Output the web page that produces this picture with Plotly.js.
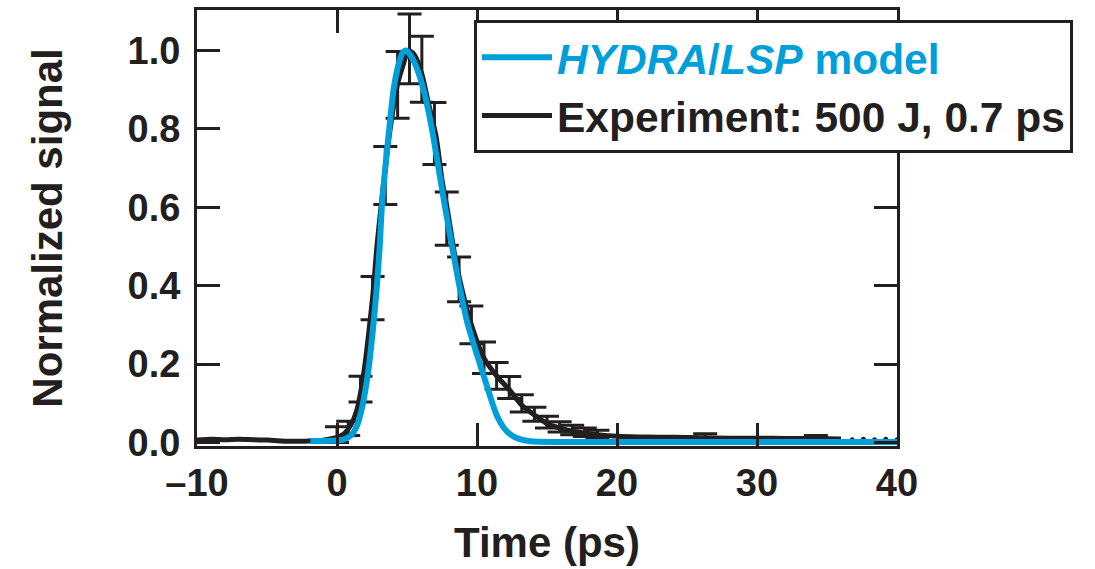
<!DOCTYPE html>
<html>
<head>
<meta charset="utf-8">
<script src="https://cdn.plot.ly/plotly-3.0.1.min.js"></script>
<style>
  html, body { margin: 0; padding: 0; background: #ffffff; }
  #chart { width: 1095px; height: 569px; }
</style>
</head>
<body>
<div id="chart"></div>
<script>
// ---------------- data ----------------
var modelName = '<span style="color:#009FDA"><i>HYDRA</i>/<i>LSP</i> model</span>';
var expName = 'Experiment: 500 J, 0.7 ps';

// HYDRA/LSP model curve
var modelTime = [-1.9, -1.0, 0.0, 0.5, 1.0, 1.4, 1.8, 2.1, 2.3, 2.6, 2.85, 3.05, 3.2, 3.45, 3.73,
                 4.04, 4.4, 4.7, 4.95, 5.3, 5.7, 6.18, 6.78, 7.25, 7.72, 8.22, 8.74, 9.35, 9.9,
                 10.3, 10.7, 11.1, 11.4, 11.9, 12.4, 13.0, 13.8, 16.0, 20.0, 30.0, 40.0];
var modelSignal = [0.004, 0.004, 0.005, 0.008, 0.018, 0.04, 0.09, 0.15, 0.2, 0.3, 0.4, 0.5, 0.6, 0.7, 0.8,
                   0.9, 0.965, 0.995, 1.0, 0.985, 0.955, 0.9, 0.8, 0.7, 0.6, 0.5, 0.4, 0.3, 0.235,
                   0.19, 0.145, 0.1, 0.07, 0.038, 0.02, 0.009, 0.003, 0.001, 0.001, 0.001, 0.001];

// Experimental curve
var expTime = [-10, -9, -8, -7, -6, -5, -4, -3, -2, -1, -0.5, 0, 0.5, 1.0, 1.4, 1.7, 2.0, 2.3, 2.57,
               2.85, 3.14, 3.45, 3.8, 4.3, 4.7, 5.1, 5.5, 6.06, 6.5, 7.08, 7.5, 7.9, 8.4, 8.8, 9.6,
               10.5, 11.4, 12.3, 13.2, 14.1, 15.0, 15.9, 16.8, 17.7, 18.6, 20, 22, 24, 26, 28, 30,
               32, 34, 36];
var expSignal = [0.006, 0.008, 0.007, 0.008, 0.007, 0.006, 0.004, 0.003, 0.004, 0.006, 0.009, 0.013,
                 0.022, 0.045, 0.08, 0.13, 0.2, 0.29, 0.38, 0.5, 0.6, 0.7, 0.8, 0.91, 0.96, 1.0, 0.99,
                 0.94, 0.87, 0.78, 0.67, 0.59, 0.48, 0.41, 0.30, 0.215, 0.17, 0.135, 0.095, 0.07,
                 0.048, 0.037, 0.029, 0.024, 0.02, 0.016, 0.014, 0.013, 0.012, 0.011, 0.011, 0.01,
                 0.01, 0.009];

// Sparse experimental points at the end of the record
var dotTime = [36.8, 37.6, 38.4, 39.2, 40.0];
var dotSignal = [0.007, 0.008, 0.007, 0.008, 0.007];

// Error bars on the experiment
var barTime = [0.0, 0.8, 1.68, 2.54, 3.45, 4.33, 5.18, 6.06, 6.96, 7.84, 8.72, 9.6, 10.5, 11.4,
               12.3, 13.2, 14.1, 15.0, 15.9, 16.8, 17.7, 18.6, 26.3, 34.2];
var barSignal = [0.02, 0.036, 0.136, 0.368, 0.681, 0.912, 1.004, 0.952, 0.788, 0.571, 0.416, 0.30,
                 0.216, 0.17, 0.14, 0.10, 0.072, 0.052, 0.04, 0.032, 0.026, 0.021, 0.012, 0.01];
var barError = [0.02, 0.018, 0.033, 0.055, 0.074, 0.085, 0.089, 0.084, 0.079, 0.068, 0.057, 0.048,
                0.04, 0.034, 0.028, 0.022, 0.018, 0.015, 0.013, 0.012, 0.011, 0.01, 0.01, 0.008];

// Axis ticks
var xTickVals = [-10, 0, 10, 20, 30, 40];
var xTickText = ['\u201310', '0', '10', '20', '30', '40'];
var yTickVals = [0, 0.2, 0.4, 0.6, 0.8, 1.0];
var yTickText = ['0.0', '0.2', '0.4', '0.6', '0.8', '1.0'];

// ---------------- styling ----------------
var BLUE = '#009FDA';
var BLACK = '#231F20';
var FONT = '"Liberation Sans", Arial, Helvetica, sans-serif';

var traces = [
  {
    x: barTime, y: barSignal, type: 'scatter', mode: 'markers',
    marker: {size: 1, color: 'rgba(0,0,0,0)'},
    error_y: {type: 'data', array: barError, visible: true, color: BLACK, thickness: 3, width: 12},
    showlegend: false, hoverinfo: 'skip'
  },
  {
    x: dotTime, y: dotSignal, type: 'scatter', mode: 'markers',
    marker: {size: 5, color: BLACK}, showlegend: false, hoverinfo: 'skip'
  },
  {
    x: expTime, y: expSignal, type: 'scatter', mode: 'lines', name: expName,
    line: {color: BLACK, width: 5, shape: 'spline', smoothing: 0.6}
  },
  {
    x: modelTime, y: modelSignal, type: 'scatter', mode: 'lines', name: modelName,
    line: {color: BLUE, width: 6, shape: 'spline', smoothing: 0.6}
  }
];

var axisCommon = {
  showline: true, linewidth: 3, linecolor: BLACK, mirror: 'ticks',
  ticks: 'inside', ticklen: 23, tickwidth: 3, tickcolor: BLACK,
  showgrid: false, zeroline: false, automargin: false,
  tickfont: {family: FONT, size: 38, color: BLACK, weight: 'bold'}
};

var layout = {
  width: 1095, height: 569,
  margin: {l: 197, r: 198, t: 10, b: 123, pad: 0},
  paper_bgcolor: '#ffffff', plot_bgcolor: '#ffffff',
  font: {family: FONT, color: BLACK},
  showlegend: true,
  xaxis: Object.assign({}, axisCommon, {
    range: [-10, 40], tickmode: 'array', tickvals: xTickVals, ticktext: xTickText,
    ticklabelstandoff: 1,
    title: {text: '<b>Time (ps)</b>', font: {family: FONT, size: 42, color: BLACK}, standoff: 26}
  }),
  yaxis: Object.assign({}, axisCommon, {
    range: [-0.009, 1.103], tickmode: 'array', tickvals: yTickVals, ticktext: yTickText,
    ticklabelstandoff: 6,
    title: {text: '<b>Normalized signal</b>', font: {family: FONT, size: 42, color: BLACK}, standoff: 52}
  }),
  legend: {
    x: 0.3957, y: 0.977, xanchor: 'left', yanchor: 'top',
    bgcolor: '#ffffff', bordercolor: BLACK, borderwidth: 3,
    traceorder: 'reversed', itemwidth: 70,
    font: {family: FONT, size: 42.5, color: BLACK, weight: 'bold'}
  }
};

Plotly.newPlot('chart', traces, layout, {displayModeBar: false, staticPlot: true});
</script>
</body>
</html>
